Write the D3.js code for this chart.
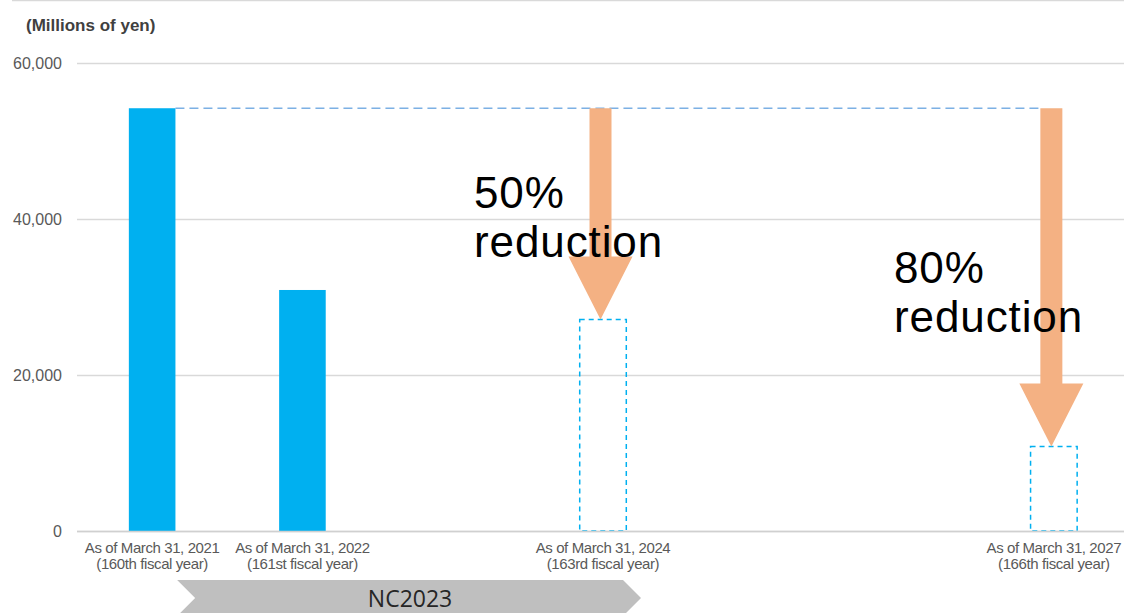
<!DOCTYPE html>
<html>
<head>
<meta charset="utf-8">
<script src="https://cdn.jsdelivr.net/npm/d3@7"></script>
<style>
  html, body { margin: 0; padding: 0; background: #fff; }
  svg { display: block; }
</style>
</head>
<body>
<svg id="chart" width="1124" height="613"></svg>
<script>
// Fiscal year-end slots along the x axis (one slot per year)
const years = ["2021", "2022", "2023", "2024", "2025", "2026", "2027"];
const dateLabels = ["As of March 31, 2021", "As of March 31, 2022", "As of March 31, 2024", "As of March 31, 2027"];
const fiscalLabels = ["(160th fiscal year)", "(161st fiscal year)", "(163rd fiscal year)", "(166th fiscal year)"];

// Actual holdings (solid bars) and targets (dashed outlines), millions of yen
const actualYears = ["2021", "2022"];
const actualValues = [54200, 30900];
const targetYears = ["2024", "2027"];
const targetValues = [27100, 10840];
const targetLabels = [["50%", "reduction"], ["80%", "reduction"]];
const baseValue = 54200;

const yTicks = [0, 20000, 40000, 60000];
const unitLabel = "(Millions of yen)";
const planLabel = "NC2023";
const planYears = ["2021", "2024"];

(function () {
  const svg = d3.select("#chart");
  const W = 1124;
  const left = 77, right = 1124;

  const x = d3.scaleBand()
    .domain(years)
    .range([77, 1129])
    .paddingInner(0.69)
    .paddingOuter(0.345);

  const y = d3.scaleLinear().domain([0, 60000]).range([531, 63]);

  // top frame line
  svg.append("line")
    .attr("x1", 12).attr("x2", W).attr("y1", 0.5).attr("y2", 0.5)
    .attr("stroke", "#d9d9d9").attr("stroke-width", 1.5);

  // gridlines + y labels
  const yAxis = d3.axisLeft(y)
    .tickValues(yTicks)
    .tickSize(-(right - left))
    .tickPadding(15)
    .tickFormat(d3.format(","));
  const gy = svg.append("g").attr("transform", `translate(${left},0)`).call(yAxis);
  gy.select(".domain").remove();
  gy.selectAll(".tick line").attr("stroke", "#d9d9d9").attr("stroke-width", 1.3);
  gy.selectAll(".tick text")
    .attr("fill", "#595959")
    .attr("font-family", "Liberation Sans, Arial, sans-serif")
    .attr("font-size", 16)
    .attr("x", -15);

  // unit label
  svg.append("text")
    .attr("x", 26).attr("y", 31)
    .attr("font-family", "Liberation Sans, Arial, sans-serif")
    .attr("font-weight", "bold")
    .attr("font-size", 17)
    .attr("fill", "#404040")
    .text(unitLabel);

  // reference line at the starting level
  svg.append("line")
    .attr("x1", x(actualYears[0]) + x.bandwidth())
    .attr("x2", x(targetYears[1]) + x.bandwidth() / 2 - 12)
    .attr("y1", y(baseValue)).attr("y2", y(baseValue))
    .attr("stroke", "#7cb0e4")
    .attr("stroke-width", 1.6)
    .attr("stroke-dasharray", "9,5");

  // solid bars
  svg.selectAll("rect.actual")
    .data(actualYears.map((yr, i) => ({ yr, v: actualValues[i] })))
    .join("rect")
    .attr("class", "actual")
    .attr("x", d => x(d.yr))
    .attr("width", x.bandwidth())
    .attr("y", d => y(d.v))
    .attr("height", d => y(0) - y(d.v))
    .attr("fill", "#00b0f0");

  // dashed target bars
  svg.selectAll("rect.target")
    .data(targetYears.map((yr, i) => ({ yr, v: targetValues[i] })))
    .join("rect")
    .attr("class", "target")
    .attr("x", d => x(d.yr))
    .attr("width", x.bandwidth())
    .attr("y", d => y(d.v))
    .attr("height", d => y(0) - y(d.v))
    .attr("fill", "none")
    .attr("stroke", "#00b0f0")
    .attr("stroke-width", 1.5)
    .attr("stroke-dasharray", "5,4");

  // reduction arrows
  function arrowPath(cx, y0, y1) {
    const shaft = 11, head = 32, headLen = 63;
    const hy = y1 - headLen;
    return `M${cx - shaft},${y0} L${cx + shaft},${y0} L${cx + shaft},${hy} L${cx + head},${hy} ` +
           `L${cx},${y1} L${cx - head},${hy} L${cx - shaft},${hy} Z`;
  }
  const arrows = targetYears.map((yr, i) => ({
    cx: x(yr) + x.bandwidth() / 2 - 2.5,
    y0: y(baseValue),
    y1: y(targetValues[i]),
    label: targetLabels[i]
  }));

  svg.selectAll("path.arrow")
    .data(arrows)
    .join("path")
    .attr("class", "arrow")
    .attr("d", a => arrowPath(a.cx, a.y0, a.y1))
    .attr("fill", "#f4b183");

  // captions over the arrows
  const textPos = [{ x: 474, y: 208 }, { x: 894, y: 283 }];
  arrows.forEach((a, i) => {
    const t = svg.append("text")
      .attr("x", textPos[i].x).attr("y", textPos[i].y)
      .attr("font-family", "Liberation Sans, Arial, sans-serif")
      .attr("font-size", 44)
      .attr("letter-spacing", 0.9)
      .attr("fill", "#000");
    a.label.forEach((line, j) => {
      t.append("tspan").attr("x", textPos[i].x).attr("dy", j === 0 ? 0 : 49).text(line);
    });
  });

  // x-axis baseline
  svg.append("line")
    .attr("x1", left).attr("x2", right).attr("y1", y(0) + 0.5).attr("y2", y(0) + 0.5)
    .attr("stroke", "#d0d0d0").attr("stroke-width", 1.5);

  // category labels
  const labelYears = ["2021", "2022", "2024", "2027"];
  labelYears.forEach((yr, i) => {
    const cx = x(yr) + x.bandwidth() / 2;
    const t = svg.append("text")
      .attr("text-anchor", "middle")
      .attr("font-family", "Liberation Sans, Arial, sans-serif")
      .attr("font-size", 15)
      .attr("letter-spacing", -0.4)
      .attr("fill", "#595959");
    t.append("tspan").attr("x", cx).attr("y", 553).text(dateLabels[i]);
    t.append("tspan").attr("x", cx).attr("y", 569).text(fiscalLabels[i]);
  });

  // plan period chevron
  const px0 = x(planYears[0]) + x.bandwidth() / 2 + 25;
  const px1 = x(planYears[1]) + x.bandwidth() / 2 + 38;
  const yTop = 580, yBot = 616, yMid = (yTop + yBot) / 2, notch = 18;
  svg.append("path")
    .attr("d", `M${px0},${yTop} L${px1 - notch},${yTop} L${px1},${yMid} L${px1 - notch},${yBot} L${px0},${yBot} L${px0 + notch},${yMid} Z`)
    .attr("fill", "#bfbfbf");
  svg.append("text")
    .attr("x", (px0 + px1) / 2 + 1).attr("y", 607)
    .attr("text-anchor", "middle")
    .attr("font-family", "Open Sans, Noto Sans, sans-serif")
    .attr("font-size", 23)
    .attr("fill", "#262626")
    .text(planLabel);
})();
</script>
</body>
</html>
